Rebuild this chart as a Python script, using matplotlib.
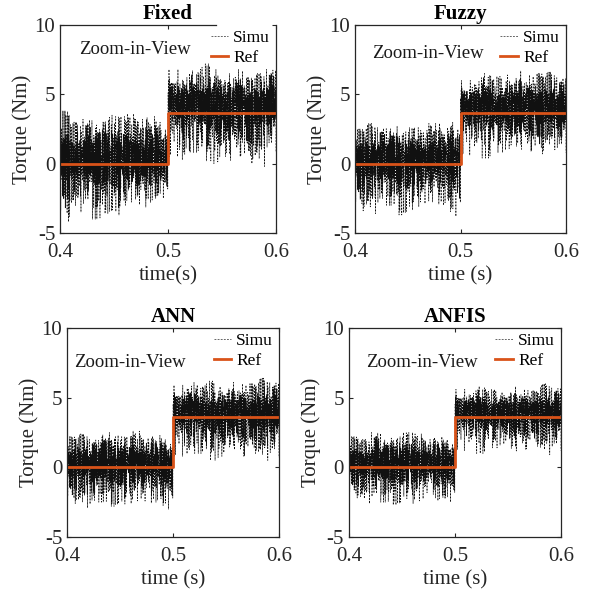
import numpy as np
import matplotlib
matplotlib.use("Agg")
import matplotlib.pyplot as plt

plt.rcParams['font.family'] = ['Liberation Serif', 'DejaVu Serif']
plt.rcParams['axes.unicode_minus'] = False

# panel names and axis labels
titles = ["Fixed", "Fuzzy", "ANN", "ANFIS"]
xlabels = ["time(s)", "time (s)", "time (s)", "time (s)"]

# reference torque step
ref_times = [0.4, 0.5, 0.5, 0.6]
ref_levels = [0.0, 0.0, 3.65, 3.65]

# simulated torque, read per 0.01 s bin (0.40 ... 0.59): centre, upper, lower
fixed_mid = [0.4, 0.3, 0.5, 0.2, 0.4, 0.3, 0.5, 0.2, 0.4, 0.3,
             4.3, 4.2, 4.4, 4.5, 4.3, 4.2, 4.4, 4.1, 4.3, 4.4]
fixed_hi = [3.8, 3.0, 3.2, 3.0, 3.5, 3.4, 3.6, 3.2, 3.4, 3.0,
            6.8, 6.5, 6.8, 7.2, 6.8, 6.5, 6.8, 6.2, 6.5, 6.8]
fixed_lo = [-4.2, -3.5, -3.3, -4.0, -3.6, -3.8, -3.0, -3.5, -2.8, -2.5,
            0.5, -0.2, 0.8, 0.2, 0.0, -0.3, 0.5, 0.0, -0.2, 0.8]

fuzzy_mid = [0.4, 0.3, 0.4, 0.2, 0.3, 0.4, 0.3, 0.4, 0.3, 0.4,
             4.1, 4.0, 4.2, 4.1, 4.0, 4.2, 4.1, 4.0, 4.1, 4.0]
fuzzy_hi = [2.5, 2.9, 2.6, 2.7, 2.3, 2.6, 2.4, 2.9, 2.6, 3.0,
            6.0, 6.2, 6.6, 6.3, 6.4, 6.7, 6.4, 6.5, 6.6, 6.2]
fuzzy_lo = [-3.4, -3.6, -3.2, -3.0, -3.7, -3.4, -3.1, -3.3, -3.0, -3.8,
            0.6, 0.9, 0.4, 0.8, 1.0, 0.6, 0.9, 0.7, 1.0, 0.8]

ann_mid = [0.3, 0.4, 0.3, 0.4, 0.3, 0.4, 0.3, 0.4, 0.3, 0.3,
           3.9, 4.0, 3.9, 4.0, 3.8, 4.0, 3.9, 3.8, 3.9, 4.0]
ann_hi = [2.2, 2.4, 2.0, 2.5, 2.3, 2.2, 2.6, 2.1, 2.3, 2.0,
          5.9, 6.1, 6.0, 6.2, 5.8, 6.1, 6.0, 6.0, 6.4, 6.1]
ann_lo = [-2.6, -2.9, -3.0, -2.5, -2.8, -2.7, -2.6, -2.9, -2.5, -3.0,
          0.8, 0.6, 1.0, 0.5, 0.7, 0.9, 0.8, 1.0, 0.5, 0.7]

anfis_mid = [0.4, 0.3, 0.4, 0.3, 0.4, 0.4, 0.3, 0.4, 0.3, 0.4,
             4.0, 4.1, 3.9, 4.0, 4.1, 3.9, 4.0, 4.1, 4.0, 3.9]
anfis_hi = [2.2, 2.0, 2.5, 2.1, 2.2, 2.5, 2.4, 2.0, 2.2, 2.0,
            5.6, 5.5, 5.9, 5.6, 5.4, 5.8, 5.6, 5.5, 6.0, 5.7]
anfis_lo = [-2.2, -2.6, -2.4, -2.5, -2.7, -2.3, -2.6, -2.2, -2.4, -2.5,
            1.2, 1.5, 1.0, 1.4, 1.6, 0.8, 1.3, 1.5, 0.9, 1.2]

# ripple shape within the band (fractions of the band, typed by hand)
swing_a = [0.2, -0.5, 0.7, -0.1, 0.4, -0.8, 0.1, 0.55, -0.3, 0.9, -0.6, 0.0,
           0.35, -1.0, 0.6, -0.2, 0.15, -0.45, 0.8, -0.7, 0.3, -0.05, 0.5,
           -0.9, 0.25, -0.35, 1.0, -0.15, 0.45, -0.55, 0.05, 0.65, -0.25,
           0.85, -0.75, 0.1, -0.4, 0.3, -0.65, 0.75, -0.1]
swing_b = [-0.3, 0.6, -0.8, 0.2, 0.9, -0.4, 0.1, -1.0, 0.5, -0.2, 0.7, -0.6,
           0.3, 1.0, -0.7, 0.0, 0.4, -0.5, 0.8, -0.1, -0.9, 0.6, -0.3, 0.2,
           0.5, -0.8, 0.9, -0.4, 0.1]

panels = [(fixed_mid, fixed_hi, fixed_lo), (fuzzy_mid, fuzzy_hi, fuzzy_lo),
          (ann_mid, ann_hi, ann_lo), (anfis_mid, anfis_hi, anfis_lo)]

positions = [[0.1015, 0.6097, 0.3655, 0.3484],
             [0.6007, 0.6097, 0.3570, 0.3484],
             [0.1134, 0.1005, 0.3587, 0.3500],
             [0.5905, 0.1005, 0.3587, 0.3500]]
note_xy = [(0.09, 0.88), (0.08, 0.865), (0.033, 0.833), (0.08, 0.837)]

n = 1400
t = np.linspace(0.4, 0.6, n)
sa = np.array(swing_a)[np.arange(n) % len(swing_a)]
sb = np.array(swing_b)[np.arange(n) % len(swing_b)]
frac = np.clip(0.8 * sa + 0.45 * sb, -1, 1)
bins = np.minimum((np.arange(n) * 20) // n, 19)

ref_color = '#D95319'
axis_color = '#262626'

fig = plt.figure(figsize=(5.91, 5.97), dpi=100)
for k in range(4):
    mid, hi, lo = [np.array(v) for v in panels[k]]
    m, h, l = mid[bins], hi[bins], lo[bins]
    y = np.where(frac > 0, m + frac * (h - m), m + frac * (m - l))

    ax = fig.add_axes(positions[k])
    ax.plot(t, y, color='#111111', linestyle=(0, (3, 2)), linewidth=0.45, label='Simu')
    ax.plot(ref_times, ref_levels, color=ref_color, linewidth=2.0, label='Ref')
    ax.set_xlim(0.4, 0.6)
    ax.set_ylim(-5, 10)
    ax.set_xticks([0.4, 0.5, 0.6])
    ax.set_xticklabels(['0.4', '0.5', '0.6'])
    ax.set_yticks([-5, 0, 5, 10])
    ax.tick_params(direction='in', top=True, right=True, labelsize=15,
                   length=3, color=axis_color, labelcolor=axis_color)
    ax.tick_params(axis='x', pad=7)
    for s in ax.spines.values():
        s.set_color(axis_color)
        s.set_linewidth(0.9)
    if k == 0:
        # legend box hides the right part of the top border here
        ax.spines['top'].set_bounds(0.4, 0.544)
    ax.set_title(titles[k], fontsize=15, fontweight='bold', pad=4)
    ax.set_xlabel(xlabels[k], fontsize=15, color=axis_color, labelpad=3)
    ax.set_ylabel('Torque (Nm)', fontsize=15, color=axis_color, labelpad=2)
    ax.text(note_xy[k][0], note_xy[k][1], 'Zoom-in-View', transform=ax.transAxes,
            fontsize=13.5, va='center', ha='left', color='#1a1a1a')
    ax.legend(loc='upper right', bbox_to_anchor=(1.02, 1.025),
              fontsize=12.5, frameon=False, handlelength=1.0,
              handletextpad=0.3, labelspacing=0.2, borderaxespad=0.2)

fig.savefig('out.png', dpi=100)
